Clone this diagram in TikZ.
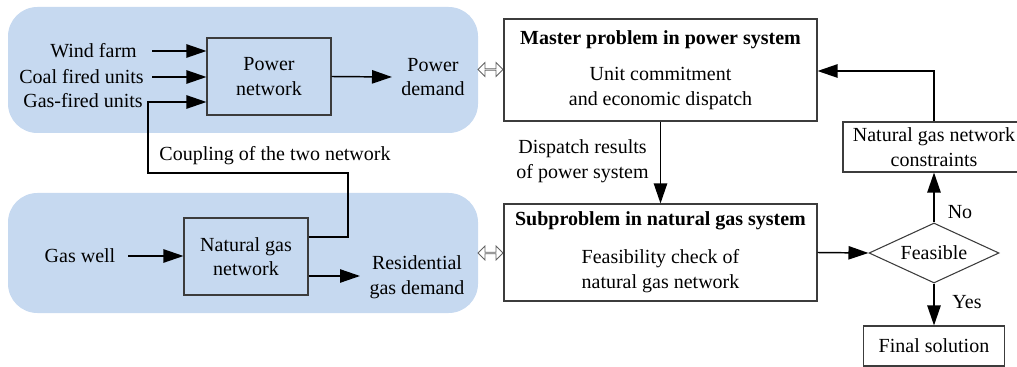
\documentclass[tikz,border=0pt]{standalone}
\usepackage{fontspec}
\setmainfont{Liberation Serif}
\usetikzlibrary{arrows.meta,shapes.geometric,shapes.arrows}
\definecolor{bandblue}{RGB}{198,217,240}
\definecolor{boxline}{RGB}{60,60,60}
\begin{document}
\begin{tikzpicture}[x=0.75pt,y=-0.75pt,
  every node/.style={font=\fontsize{15pt}{18.5pt}\selectfont},
  band/.style={fill=bandblue,rounded corners=22pt},
  netbox/.style={draw=boxline,line width=0.8pt,fill=bandblue,align=center,inner sep=0pt,minimum width=93pt,minimum height=57.75pt},
  probbox/.style={draw=boxline,line width=0.8pt,fill=white,align=center,inner sep=0pt,minimum width=234.75pt},
  plainbox/.style={draw=boxline,line width=0.8pt,fill=white,align=center,inner sep=0pt},
  lbl/.style={inner sep=0pt,align=center},
  arr/.style={line width=1.1pt,-{Triangle[length=15pt,width=10pt]}},
  dblarrow/.style={double arrow,draw=boxline!80,line width=0.6pt,fill=white,inner sep=0pt,
    minimum height=18.75pt,minimum width=10.5pt,double arrow head extend=2.6pt},
]
\useasboundingbox (0,0) rectangle (1017,367);

% background bands
\fill[band] (8,7) rectangle (478,133);
\fill[band] (8,193) rectangle (478,313);

% power side
\node[netbox] (pn) at (269,76.5) {Power\\network};
\node[lbl,anchor=east] (wind) at (137,51) {Wind farm};
\node[lbl,anchor=east] (coal) at (144,77) {Coal fired units};
\node[lbl,anchor=east] (gasu) at (143,101) {Gas-fired units};
\node[lbl] (pd) at (433,77) {Power\\demand};
\coordinate (w0) at (152,51);
\coordinate (c0) at (152,77);
\coordinate (pd0) at (392,77);
\draw[arr] (w0) -- (pn.west |- w0);
\draw[arr] (c0) -- (pn.west |- c0);
\draw[arr] (pn.east) -- (pd0);

% gas side
\node[netbox] (ng) at (246,256.5) {Natural gas\\network};
\node[lbl] (gw) at (80,256) {Gas well};
\node[lbl] (rd) at (417,277) {Residential\\gas demand};
\coordinate (g0) at (128,256);
\coordinate (r0) at (308,276);
\coordinate (r1) at (360,276);
\draw[arr] (g0) -- (ng.west |- g0);
\draw[arr] (ng.east |- r0) -- (r1);

% coupling
\coordinate (k1) at (348,237);
\coordinate (k2) at (148,173);
\coordinate (k3) at (148,102);
\draw[arr] (ng.east |- k1) -- (k1) |- (k2) -- (k3) -- (pn.west |- k3);
\node[lbl] (cp) at (275,156) {Coupling of the two network};

% double arrows
\node[dblarrow] (da1) at (490.5,69.5) {};
\node[dblarrow] (da2) at (490.5,253) {};

% right side
\node[probbox,minimum height=76.5pt] (master) at (660.5,70)
  {{\bfseries Master problem in power system}\\[9pt]Unit commitment\\and economic dispatch};
\node[probbox,minimum height=72.75pt] (sub) at (660.5,252.5)
  {{\bfseries Subproblem in natural gas system}\\[10pt]Feasibility check of\\natural gas network};
\node[lbl] (dr) at (582.5,161) {Dispatch results\\of power system};
\draw[arr] (master.south) -- (sub.north);

\node[diamond,draw=boxline,line width=0.8pt,fill=white,inner sep=0pt,aspect=2.17,
  minimum width=97.5pt,minimum height=45pt] (dia) at (934,253) {Feasible};
\node[plainbox,minimum width=150pt,minimum height=37.5pt] (ngc) at (943,147) {};
\node[lbl] (ngct) at (934,147) {Natural gas network\\constraints};
\node[plainbox,minimum width=105.75pt,minimum height=30pt] (fin) at (934,346) {Final solution};

\coordinate (m1) at (934,71);
\draw[arr] (sub.east) -- (dia.west);
\draw[arr] (dia.north) -- (dia.north |- ngc.south);
\draw[arr] (dia.south) -- (fin.north);
\draw[arr] (m1 |- ngc.north) -- (m1) -- (master.east |- m1);

\node[lbl] (no) at (960,212) {No};
\node[lbl] (yes) at (967,302) {Yes};
\end{tikzpicture}
\end{document}
